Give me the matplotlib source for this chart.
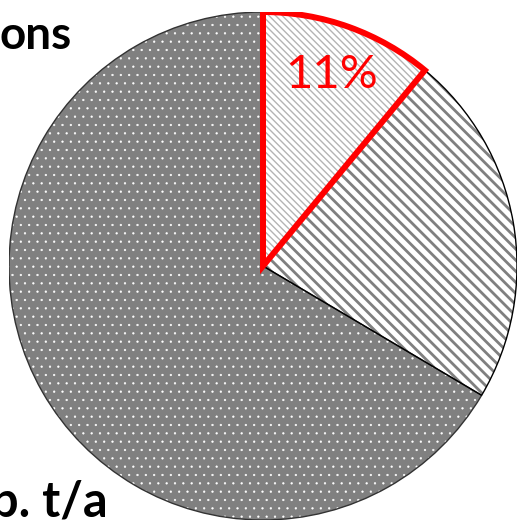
import matplotlib
matplotlib.use("Agg")
import matplotlib.pyplot as plt
from matplotlib.patches import Wedge

# slice shares, clockwise from 12 o'clock
shares = [11, 22.5, 66.5]
face_colors = ["white", "white", "#808080"]
hatch_colors = ["#b4b4b4", "#808080", "white"]
hatches = ["\\\\\\\\\\", "\\\\\\", ".."]
hatch_widths = [1.0, 2.0, 0.4]
outline_colors = ["red", "black", "#333333"]
outline_widths = [4.3, 1.0, 1.0]

title_top = "ons"
title_bottom = "p. t/a"

W, H = 517, 522
fig = plt.figure(figsize=(W / 100, H / 100), dpi=100)
cx, cy, r = 263, 266, 254
ax = fig.add_axes([(cx - r) / W, (H - cy - r) / H, 2 * r / W, 2 * r / H])

wedges, texts, autotexts = ax.pie(shares, startangle=90, counterclock=False,
                                  autopct="%d%%", pctdistance=0.8,
                                  wedgeprops=dict(linewidth=0))

for i, w in enumerate(wedges):
    w.set_facecolor(face_colors[i])
    w.set_edgecolor(hatch_colors[i])
    w.set_hatch(hatches[i])
    if hasattr(w, "set_hatch_linewidth"):
        w.set_hatch_linewidth(hatch_widths[i])
    else:
        w._hatch_linewidth = hatch_widths[i]

# outlines on top, red one last
for i in [2, 1, 0]:
    w = wedges[i]
    ax.add_patch(Wedge(w.center, w.r, w.theta1, w.theta2, fill=False,
                       edgecolor=outline_colors[i], linewidth=outline_widths[i],
                       joinstyle="miter", zorder=3 + (i == 0)))

for i, t in enumerate(autotexts):
    if i == 0:
        t.set_color("red")
        t.set_fontsize(34)
        t.set_family("Lato")
        t.set_zorder(6)
    else:
        t.set_visible(False)

ax.set_xlim(-1, 1)
ax.set_ylim(-1, 1)
ax.axis("off")

fig.text(72 / W, 1 - 49 / H, title_top, ha="right", va="baseline",
         fontsize=33, fontweight="bold", family="Lato")
fig.text(108 / W, 1 - 517 / H, title_bottom, ha="right", va="baseline",
         fontsize=35, fontweight="bold", family="Lato")

fig.savefig("out.png", dpi=100)
